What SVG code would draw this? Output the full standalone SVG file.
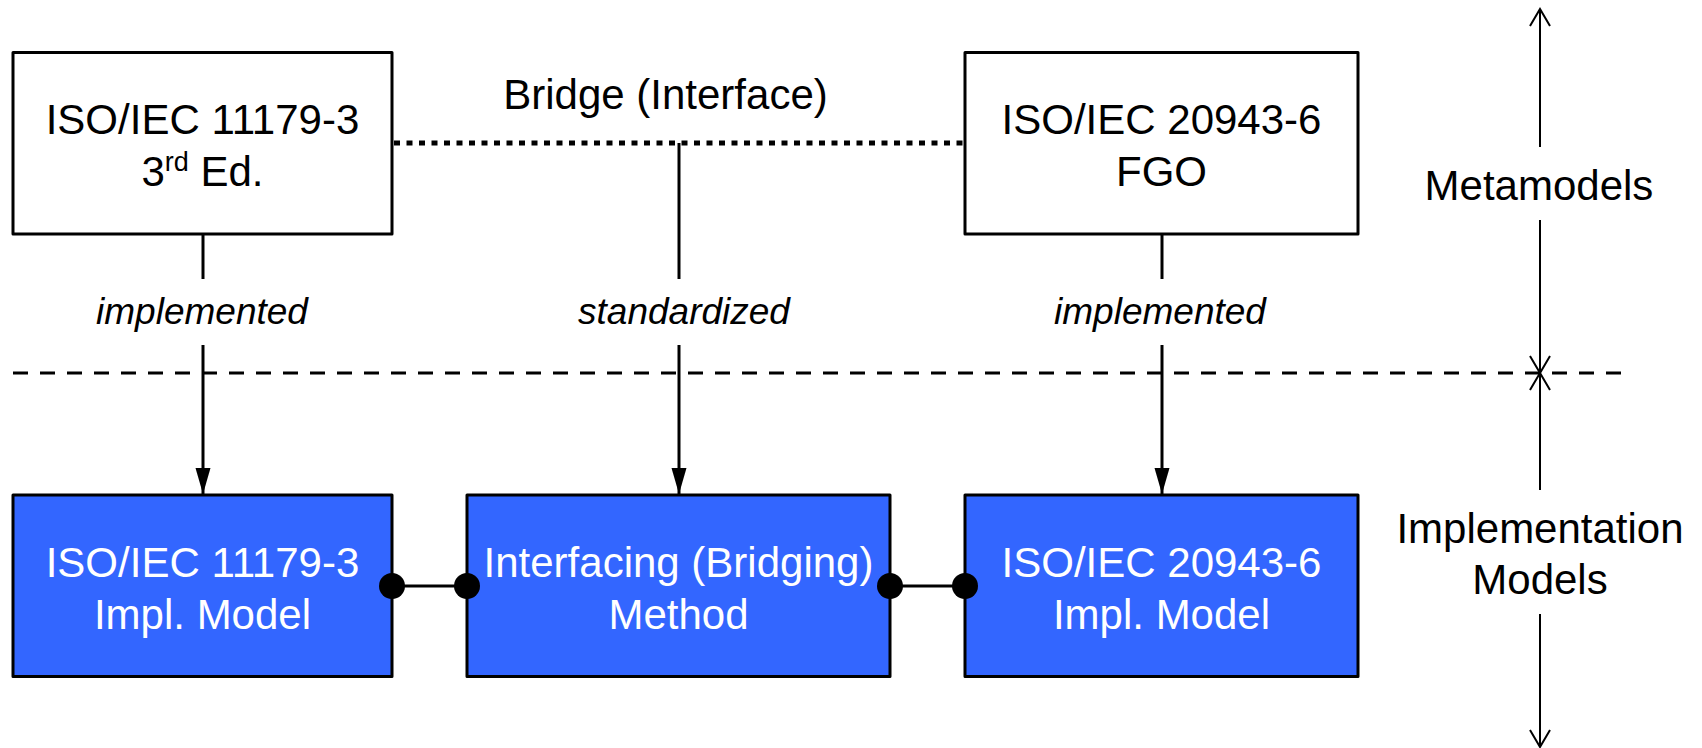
<svg xmlns="http://www.w3.org/2000/svg" width="1702" height="748" viewBox="0 0 1702 748">
  <style>
    text { font-family: "Liberation Sans", Arial, sans-serif; fill: #000; }
    .big { font-size: 42px; text-anchor: middle; }
    .lbl { font-size: 37px; font-style: italic; text-anchor: middle; }
    .inv { fill: #fff; }
    .meta { fill: #fff; stroke: #000; stroke-width: 3; stroke-linejoin: round; }
    .impl { fill: #3366ff; stroke: #000; stroke-width: 3; stroke-linejoin: round; }
    .wire { fill: none; stroke: #000; stroke-width: 3; }
    .dotted { fill: none; stroke: #000; stroke-width: 5; stroke-dasharray: 6 6.5; }
    .dashed { fill: none; stroke: #000; stroke-width: 3; stroke-dasharray: 15 12; }
    .axis { fill: none; stroke: #000; stroke-width: 2; }
    .port { fill: #000; }
  </style>
  <defs>
    <marker id="solidHead" markerUnits="userSpaceOnUse" markerWidth="28" markerHeight="16" refX="26" refY="7.5" orient="auto" overflow="visible">
      <path d="M0,0 L26,7.5 L0,15 Z" fill="#000"/>
    </marker>
    <marker id="openHead" markerUnits="userSpaceOnUse" markerWidth="20" markerHeight="22" refX="17" refY="10" orient="auto" overflow="visible">
      <path d="M0,0 L17,10 L0,20" fill="none" stroke="#000" stroke-width="2"/>
    </marker>
  </defs>

  <rect width="1702" height="748" fill="#fff"/>

  <!-- separator between the metamodel layer and the implementation layer -->
  <line class="dashed" x1="13" y1="373" x2="1628" y2="373"/>

  <!-- connectors -->
  <g id="connectors">
    <!-- bridge between the two metamodels -->
    <line class="dotted" x1="394" y1="143" x2="963" y2="143"/>
    <text id="bridge-label" class="big" x="665.5" y="109">Bridge (Interface)</text>

    <!-- 11179-3 implemented -->
    <line class="wire" x1="203" y1="234" x2="203" y2="279"/>
    <text class="lbl" x="202" y="324">implemented</text>
    <line class="wire" x1="203" y1="345" x2="203" y2="494" marker-end="url(#solidHead)"/>

    <!-- bridge standardized -->
    <line class="wire" x1="679" y1="143" x2="679" y2="279"/>
    <text class="lbl" x="684" y="324">standardized</text>
    <line class="wire" x1="679" y1="345" x2="679" y2="494" marker-end="url(#solidHead)"/>

    <!-- 20943-6 implemented -->
    <line class="wire" x1="1162" y1="234" x2="1162" y2="279"/>
    <text class="lbl" x="1160" y="324">implemented</text>
    <line class="wire" x1="1162" y1="345" x2="1162" y2="494" marker-end="url(#solidHead)"/>

    <!-- port links between implementation models -->
    <line class="wire" x1="392" y1="586" x2="467" y2="586"/>
    <line class="wire" x1="890" y1="586" x2="965" y2="586"/>
  </g>

  <!-- metamodels -->
  <g id="meta-11179-3">
    <rect class="meta" x="13" y="52.5" width="379" height="181.5"/>
    <text class="big" x="202.5" y="134">ISO/IEC 11179-3</text>
    <text class="big" x="202.5" y="186">3<tspan font-size="27" dy="-15">rd</tspan><tspan dy="15"> Ed.</tspan></text>
  </g>
  <g id="meta-20943-6">
    <rect class="meta" x="965" y="52.5" width="393" height="181.5"/>
    <text class="big" x="1161.5" y="134">ISO/IEC 20943-6</text>
    <text class="big" x="1161.5" y="186">FGO</text>
  </g>

  <!-- implementation models -->
  <g id="impl-11179-3">
    <rect class="impl" x="13" y="495" width="379" height="181.5"/>
    <text class="big inv" x="202.5" y="577">ISO/IEC 11179-3</text>
    <text class="big inv" x="202.5" y="629">Impl. Model</text>
  </g>
  <g id="bridging-method">
    <rect class="impl" x="467" y="495" width="423" height="181.5"/>
    <text class="big inv" x="678.5" y="577">Interfacing (Bridging)</text>
    <text class="big inv" x="678.5" y="629">Method</text>
  </g>
  <g id="impl-20943-6">
    <rect class="impl" x="965" y="495" width="393" height="181.5"/>
    <text class="big inv" x="1161.5" y="577">ISO/IEC 20943-6</text>
    <text class="big inv" x="1161.5" y="629">Impl. Model</text>
  </g>

  <!-- ports -->
  <g id="ports">
    <circle class="port" cx="392" cy="586" r="13"/>
    <circle class="port" cx="467" cy="586" r="13"/>
    <circle class="port" cx="890" cy="586" r="13"/>
    <circle class="port" cx="965" cy="586" r="13"/>
  </g>

  <!-- layer scale on the right -->
  <g id="layer-scale">
    <line class="axis" x1="1540" y1="147" x2="1540" y2="9" marker-end="url(#openHead)"/>
    <line class="axis" x1="1540" y1="220" x2="1540" y2="373" marker-end="url(#openHead)"/>
    <text class="big" x="1539" y="200">Metamodels</text>
    <line class="axis" x1="1540" y1="490" x2="1540" y2="373" marker-end="url(#openHead)"/>
    <line class="axis" x1="1540" y1="614" x2="1540" y2="747" marker-end="url(#openHead)"/>
    <text class="big" x="1540" y="543">Implementation</text>
    <text class="big" x="1540" y="594">Models</text>
  </g>
</svg>
